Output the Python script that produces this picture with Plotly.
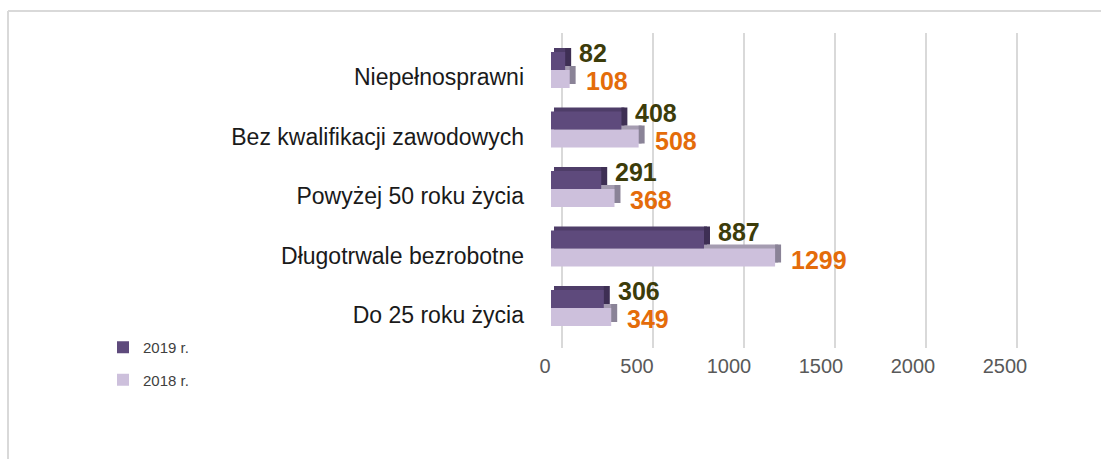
import plotly.graph_objects as go

# ---- data ----
categories = ["Do 25 roku życia", "Długotrwale bezrobotne", "Powyżej 50 roku życia",
              "Bez kwalifikacji zawodowych", "Niepełnosprawni"]
values_2019 = [306, 887, 291, 408, 82]
values_2018 = [349, 1299, 368, 508, 108]
series_names = ["2019 r.", "2018 r."]
tick_values = [0, 500, 1000, 1500, 2000, 2500]

# ---- geometry helpers (figure pixels) ----
W, H = 1101, 459
ML, MR, MT, MB = 500, 50, 33, 111
PW, PH = W - ML - MR, H - MT - MB


def px_x(px):
    return (px - ML) / PW


def px_y(py):
    return 1 - (py - MT) / PH


BAR_X0 = 551          # pixel where bars start
BAR_SCALE = 0.1725    # px per unit for bars
GRID_X0 = 562         # back-plane zero gridline
GRID_SCALE = 0.182
TICK_X0 = 545         # where the "0" label sits
TICK_SCALE = 0.184
TICK_SHIFT = 8
CAT_PX = 59.5         # px per category
Y_TOP_C, Y_BOT_C = 70, 308  # pixel centers of top and bottom category

bar_right = (W - MR - BAR_X0) / BAR_SCALE
grid_range = [(BAR_X0 - GRID_X0) / GRID_SCALE, (W - MR - GRID_X0) / GRID_SCALE]
t0 = TICK_X0 + TICK_SHIFT
tick_range = [(BAR_X0 - t0) / TICK_SCALE, (W - MR - t0) / TICK_SCALE]
bar_dom0 = px_x(BAR_X0)

y_range = [0 - (MT + PH - Y_BOT_C) / CAT_PX, 4 + (Y_TOP_C - MT) / CAT_PX]

bw = 18 / CAT_PX
dx = 6 / BAR_SCALE
dy = 4 / CAT_PX

c19_front, c19_top, c19_side = "#5e4a7c", "#4e3d68", "#3e2f54"
c18_front, c18_top, c18_side = "#cdc0dc", "#a59cb1", "#8a8397"
c19_lab, c18_lab = "#3c3c0a", "#e46c0a"

FONT = "Liberation Sans, Arial, sans-serif"

fig = go.Figure()


def add_series(vals, off, cf, ct, cs, name, rank):
    # top face (depth)
    fig.add_trace(go.Bar(y=categories, x=vals, base=[dx * 0.5] * len(vals), orientation="h",
                         offset=off + dy, width=bw, marker=dict(color=ct, line=dict(width=0)),
                         showlegend=False, hoverinfo="skip"))
    # side face (depth)
    fig.add_trace(go.Bar(y=categories, x=[dx] * len(vals), base=vals, orientation="h",
                         offset=off + dy, width=bw, marker=dict(color=cs, line=dict(width=0)),
                         showlegend=False, hoverinfo="skip"))
    # front face
    fig.add_trace(go.Bar(y=categories, x=vals, orientation="h", name=name,
                         offset=off, width=bw, marker=dict(color=cf, line=dict(width=0)),
                         legendrank=rank, legendgroup=name))


add_series(values_2018, -bw, c18_front, c18_top, c18_side, series_names[1], 2)
add_series(values_2019, 0, c19_front, c19_top, c19_side, series_names[0], 1)

# value labels
annotations = []
for cat, v in zip(categories, values_2019):
    annotations.append(dict(x=v, y=cat, xref="x", yref="y", text=f"<b>{v}</b>",
                            showarrow=False, xanchor="left", yanchor="middle",
                            xshift=12, yshift=17,
                            font=dict(family=FONT, size=25, color=c19_lab)))
for cat, v in zip(categories, values_2018):
    annotations.append(dict(x=v, y=cat, xref="x", yref="y", text=f"<b>{v}</b>",
                            showarrow=False, xanchor="left", yanchor="middle",
                            xshift=14, yshift=-11,
                            font=dict(family=FONT, size=25, color=c18_lab)))

# chart-area border (top and left)
shapes = [
    dict(type="line", xref="paper", yref="paper", x0=px_x(8), x1=px_x(W + 5),
         y0=px_y(11), y1=px_y(11), line=dict(color="#d9d9d9", width=2)),
    dict(type="line", xref="paper", yref="paper", x0=px_x(8), x1=px_x(8),
         y0=px_y(11), y1=px_y(H + 5), line=dict(color="#d9d9d9", width=2)),
]

fig.update_layout(
    width=W, height=H,
    margin=dict(l=ML, r=MR, t=MT, b=MB),
    paper_bgcolor="white", plot_bgcolor="rgba(0,0,0,0)",
    barmode="overlay",
    font=dict(family=FONT),
    annotations=annotations,
    shapes=shapes,
    xaxis=dict(domain=[bar_dom0, 1], range=[0, bar_right], showgrid=False, zeroline=False,
               showticklabels=False, showline=False, anchor="y"),
    xaxis2=dict(domain=[bar_dom0, 1], range=grid_range,
                overlaying="x", showgrid=True, gridcolor="#d9d9d9", gridwidth=2,
                tickvals=tick_values, showticklabels=False, zeroline=False, showline=False,
                anchor="y", layer="below traces"),
    xaxis3=dict(domain=[bar_dom0, 1], range=tick_range, overlaying="x", showgrid=False,
                zeroline=False, showline=False, tickvals=tick_values, ticks="",
                tickfont=dict(family=FONT, size=20, color="#595959"),
                ticklabelstandoff=4, ticklabelshift=-TICK_SHIFT, anchor="y", side="bottom"),
    yaxis=dict(range=y_range, showgrid=False, zeroline=False, showline=False, ticks="",
               tickfont=dict(family=FONT, size=23, color="#1a1a1a"), ticklabelstandoff=26,
               ticklabelshift=7,
               anchor="x", categoryorder="array", categoryarray=categories),
    legend=dict(x=px_x(103), y=px_y(331), xanchor="left", yanchor="top",
                font=dict(family=FONT, size=15, color="#404040"),
                tracegroupgap=10, bgcolor="rgba(0,0,0,0)", itemclick=False),
    showlegend=True,
)

# dummy traces to activate the grid and tick axes
fig.add_trace(go.Scatter(x=[None], y=[None], xaxis="x2", yaxis="y", showlegend=False, hoverinfo="skip"))
fig.add_trace(go.Scatter(x=[None], y=[None], xaxis="x3", yaxis="y", showlegend=False, hoverinfo="skip"))

fig.write_html("out.html", config={"displayModeBar": False},
               post_script="document.body.style.margin='0';document.body.style.padding='0';"
                           "document.body.style.overflow='hidden';")
